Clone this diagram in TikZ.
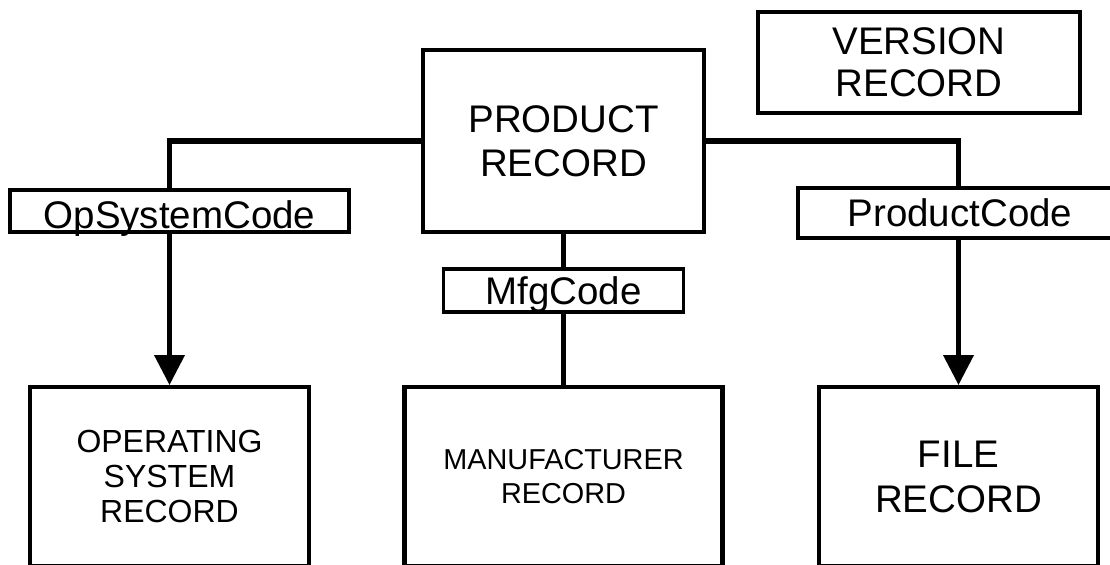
\documentclass[tikz,border=0pt]{standalone}
\usepackage{fontspec}
\setmainfont{Liberation Sans}
\usepackage{tikz}
\usetikzlibrary{arrows.meta,positioning,calc}

\begin{document}
\begin{tikzpicture}[>={Triangle[width=17pt,length=17pt]},
  every node/.style={font=\fontsize{21.9}{25}\selectfont,text=black},
  record/.style={draw,line width=2.3pt,inner sep=0pt,align=center},
  keybox/.style={draw,fill=white,line width=2.2pt,inner sep=0pt,text height=15.7pt,text depth=0pt},
  link/.style={line width=2.3pt},
  bus/.style={line width=3.4pt}]
\clip (0,0) rectangle (22.2,11.3);
\fill[white] (0,0) rectangle (22.2,11.3);
\node[record,minimum width=5.62cm,minimum height=3.64cm] (product) at (11.27,8.48) {PRODUCT\\RECORD};
\node[record,minimum width=6.44cm,minimum height=2.02cm,font=\fontsize{21.9}{23.9}\selectfont] (version) at (18.38,10.05) {VERSION\\RECORD};
\node[keybox,minimum width=6.78cm,minimum height=0.84cm,text height=20.3pt] (oscode) at (3.59,7.08) {OpSystemCode};
\node[keybox,minimum width=6.48cm,minimum height=1.0cm] (prodcode) at (19.2,7.04) {ProductCode};
\node[keybox,minimum width=4.8cm,minimum height=0.86cm] (mfgcode) at (11.27,5.49) {MfgCode};
\node[record,minimum width=5.58cm,minimum height=3.58cm,font=\fontsize{18.2}{19.9}\selectfont] (osrec) at (3.39,1.77) {OPERATING\\SYSTEM\\RECORD};
\node[record,minimum width=6.36cm,minimum height=3.58cm,font=\fontsize{16.4}{19.3}\selectfont] (mfrrec) at (11.27,1.77) {MANUFACTURER\\RECORD};
\node[record,minimum width=5.58cm,minimum height=3.58cm,font=\fontsize{21.9}{25.6}\selectfont] (filerec) at (19.17,1.77) {FILE\\RECORD};
\coordinate (lcorner) at (product.west -| osrec.north);
\coordinate (rcorner) at (product.east -| filerec.north);
\draw[bus] (product.west) -- (lcorner);
\draw[link] ($(lcorner)+(0,1.7pt)$) -- (osrec.north |- oscode.north);
\draw[link,->] (osrec.north |- oscode.south) -- (osrec.north);
\draw[bus] (product.east) -- (rcorner);
\draw[link] ($(rcorner)+(0,1.7pt)$) -- (filerec.north |- prodcode.north);
\draw[link,->] (filerec.north |- prodcode.south) -- (filerec.north);
\draw[link] (product.south) -- (mfgcode.north);
\draw[link] (mfgcode.south) -- (mfrrec.north);
\end{tikzpicture}
\end{document}
